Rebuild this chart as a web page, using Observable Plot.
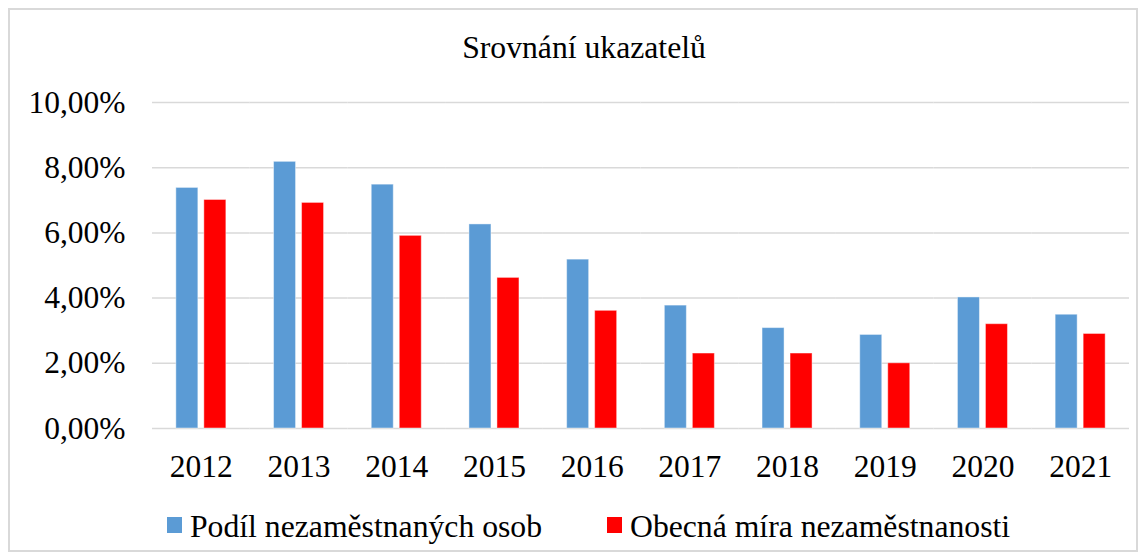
<!DOCTYPE html>
<html>
<head>
<meta charset="utf-8">
<script src="https://cdn.jsdelivr.net/npm/d3@7"></script>
<script src="https://cdn.jsdelivr.net/npm/@observablehq/plot@0.6"></script>
<style>
  html, body { margin: 0; padding: 0; background: #fff; }
  body { width: 1146px; height: 560px; position: relative; overflow: hidden; font-family: "Liberation Serif", "Times New Roman", serif; color: #000; }
  #frame { position: absolute; left: 8px; top: 8px; width: 1130px; height: 544px; border: 2px solid #d9d9d9; box-sizing: border-box; }
  #title { position: absolute; left: 0; top: 32px; width: 1168px; text-align: center; font-size: 31.7px; line-height: 31px; white-space: nowrap; }
  #chart { position: absolute; left: 0; top: 80px; }
  .leg { position: absolute; top: 511px; font-size: 31.7px; line-height: 31px; white-space: nowrap; }
  .sw { position: absolute; top: 517px; width: 15px; height: 16px; }
</style>
</head>
<body>
<div id="frame"></div>
<div id="title">Srovnání ukazatelů</div>
<div id="chart"></div>
<div class="sw" id="sw0" style="left:167px"></div>
<div class="leg" id="lg0" style="left:190px"></div>
<div class="sw" id="sw1" style="left:607px"></div>
<div class="leg" id="lg1" style="left:630px"></div>
<script>
const years = ["2012","2013","2014","2015","2016","2017","2018","2019","2020","2021"];
const seriesNames = ["Podíl nezaměstnaných osob", "Obecná míra nezaměstnanosti"];
const seriesColors = ["#5B9BD5", "#FF0000"];
const podil = [0.0738, 0.0818, 0.0748, 0.0626, 0.0518, 0.0377, 0.0308, 0.0287, 0.0402, 0.0349];
const obecna = [0.0701, 0.0692, 0.0591, 0.0462, 0.0361, 0.0230, 0.0230, 0.0200, 0.0320, 0.0290];
const yTicks = [0, 0.02, 0.04, 0.06, 0.08, 0.10];

const data = [];
years.forEach((yr, i) => {
  data.push({year: yr, series: seriesNames[0], value: podil[i]});
  data.push({year: yr, series: seriesNames[1], value: obecna[i]});
});

const width = 1146, height = 408;
const marginLeft = 152, marginRight = 17;
const fxPadInner = 0.488, fxPadOuter = 0.244;
const step = (width - marginLeft - marginRight) / years.length;
const gridInset = -step * fxPadInner / 2;

const fmt = d => (d * 100).toFixed(2).replace(".", ",") + "%";

const chart = Plot.plot({
  width, height,
  marginLeft, marginRight,
  marginTop: 22, marginBottom: 60,
  style: { fontFamily: "'Liberation Serif', 'Times New Roman', serif", fontSize: "31.5px", color: "#000", background: "transparent", overflow: "visible" },
  fx: { domain: years, paddingInner: fxPadInner, paddingOuter: fxPadOuter, round: false, label: null, axis: null },
  x: { domain: seriesNames, paddingInner: 0.214, paddingOuter: 0, round: false, axis: null },
  y: { domain: [0, 0.10], label: null, axis: null },
  color: { domain: seriesNames, range: seriesColors },
  marks: [
    Plot.ruleY(yTicks, { stroke: "#d9d9d9", strokeWidth: 1.5, insetLeft: gridInset, insetRight: gridInset }),
    Plot.barY(data, { fx: "year", x: "series", y: "value", fill: "series", stroke: "#ffffff", strokeOpacity: 0.45, strokeWidth: 1 }),
    Plot.axisY(yTicks, { tickSize: 0, tickPadding: 27 - gridInset, tickFormat: fmt, label: null, fontSize: "31.5px" }),
    Plot.axisFx({ anchor: "bottom", tickSize: 0, tickPadding: 26, label: null, fontSize: "31.5px" })
  ]
});
document.getElementById("chart").appendChild(chart);

seriesNames.forEach((s, i) => {
  document.getElementById("lg" + i).textContent = s;
  document.getElementById("sw" + i).style.background = seriesColors[i];
});
</script>
</body>
</html>
